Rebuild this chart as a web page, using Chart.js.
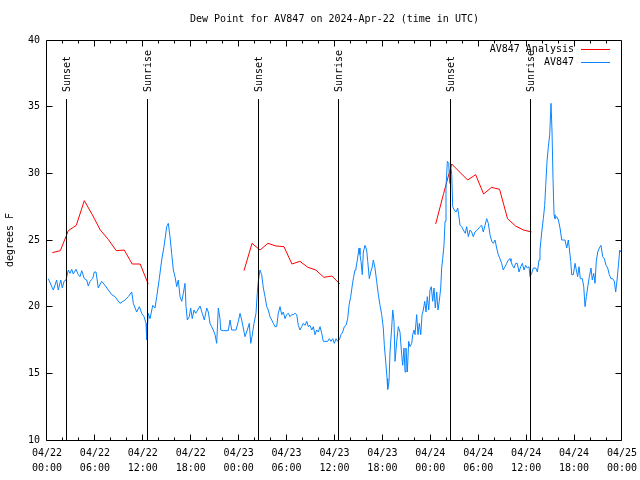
<!DOCTYPE html>
<html>
<head>
<meta charset="utf-8">
<script src="https://cdn.jsdelivr.net/npm/chart.js@4/dist/chart.umd.min.js"></script>
<style>
html,body{margin:0;padding:0;background:#fff;}
#wrap{width:640px;height:480px;}
</style>
</head>
<body>
<div id="wrap"><canvas id="c" width="640" height="480"></canvas></div>
<script>
// ---------- DATA ----------
const chartTitle = 'Dew Point for AV847 on 2024-Apr-22 (time in UTC)';
const yAxisTitle = 'degrees F';
const seriesNames = ['AV847 Analysis', 'AV847'];

// x tick labels (every 6 hours from 04/22 00:00 UTC)
const xTickLabels = [
  ['04/22','00:00'],['04/22','06:00'],['04/22','12:00'],['04/22','18:00'],
  ['04/23','00:00'],['04/23','06:00'],['04/23','12:00'],['04/23','18:00'],
  ['04/24','00:00'],['04/24','06:00'],['04/24','12:00'],['04/24','18:00'],
  ['04/25','00:00']
];
const yTickValues = [10, 15, 20, 25, 30, 35, 40];

// Sunset / sunrise markers (hours since 04/22 00:00 UTC)
const sunHours  = [2.42, 12.56, 26.46, 36.48, 50.5, 60.52];
const sunLabels = ['Sunset', 'Sunrise', 'Sunset', 'Sunrise', 'Sunset', 'Sunrise'];

// AV847 Analysis (red) — hours since 04/22 00:00, null = gap
const analysisHours = [
  0.67, 1.67, 2.67, 3.67, 4.67, 5.67, 6.67, 7.67, 8.67, 9.67, 10.67, 11.67, 12.67,
  18,
  24.67, 25.67, 26.67, 27.67, 28.67, 29.67, 30.67, 31.67, 32.67, 33.67, 34.67, 35.67, 36.67,
  42,
  48.67, 49.67, 50.67, 51.67, 52.67, 53.67, 54.67, 55.67, 56.67, 57.67, 58.67, 59.67, 60.67
];
const analysisValues = [
  24.05, 24.2, 25.7, 26.1, 27.95, 26.9, 25.75, 25.05, 24.2, 24.25, 23.2, 23.2, 21.7,
  null,
  22.7, 24.75, 24.25, 24.75, 24.55, 24.5, 23.2, 23.4, 22.95, 22.75, 22.2, 22.3, 21.7,
  null,
  26.2, 28.5, 30.7, 30.1, 29.5, 29.9, 28.45, 28.95, 28.8, 26.6, 26.05, 25.75, 25.6
];

// AV847 observations (blue)
const obsHours = [
  0.16,0.79,1.21,1.41,1.72,1.92,2.13,2.38,2.67,2.88,
  3.09,3.29,3.63,3.92,4.13,4.35,4.67,4.97,5.17,5.38,
  5.72,5.92,6.14,6.42,6.85,7.26,7.68,8.1,8.51,9.14,
  9.77,10.18,10.61,10.81,11.23,11.56,11.86,12.15,12.4,12.48,
  12.68,12.9,13.24,13.52,13.74,14.06,
  14.36,14.65,14.99,15.19,15.4,15.61,15.82,16.03,16.24,16.44,
  16.66,16.87,17.07,17.28,17.41,17.57,17.82,17.99,18.19,18.41,
  18.62,18.87,19.16,19.44,19.7,20.0,20.2,20.41,20.62,20.82,
  21.04,21.25,21.45,21.66,21.75,22.08,22.7,22.92,23.13,23.67,
  23.96,24.17,24.38,24.58,24.79,25.08,25.33,25.51,25.67,25.92,
  26.17,26.33,26.46,26.67,26.88,27.09,27.3,27.51,27.71,27.92,
  28.14,28.34,
  28.55,28.76,28.96,29.18,29.39,29.59,29.8,30.01,30.22,30.43,
  30.64,30.84,31.05,31.27,31.47,31.68,31.89,32.09,32.31,32.52,
  32.72,32.93,33.15,33.35,33.56,33.77,33.97,34.19,34.4,34.6,
  34.81,35.15,35.35,35.56,35.78,35.98,36.19,36.4,36.6,36.81,
  37.03,37.23,37.44,37.65,37.82,38.03,38.23,38.4,38.57,38.69,
  38.86,39.07,39.19,39.32,39.48,39.61,39.82,40.03,40.16,40.36,
  40.53,40.7,40.86,41.07,41.28,41.49,41.7,41.91,42.11,42.24,
  42.41,42.58,42.66,42.83,
  42.95,43.16,43.29,43.45,43.58,43.79,43.99,44.2,44.41,44.54,
  44.7,44.83,44.95,45.12,45.29,45.45,45.67,45.79,45.96,46.08,
  46.29,46.46,46.62,46.8,46.96,47.12,47.3,47.46,47.62,47.8,
  47.96,48.12,48.3,48.46,48.62,48.8,48.96,49.12,49.3,49.42,
  49.55,49.71,49.84,49.96,50.13,50.3,50.43,50.55,50.68,50.8,
  51.0,51.22,51.43,51.55,51.72,51.93,52.13,52.38,52.55,52.76,
  52.97,53.18,53.38,53.59,53.88,54.22,54.43,54.63,54.85,55.06,
  55.26,55.47,55.69,55.89,56.1,56.31,56.51,56.72,56.93,57.13,
  57.35,57.56,57.76,57.98,58.1,58.27,58.48,58.69,58.89,59.1,
  59.32,59.52,59.73,59.94,60.14,60.36,60.48,60.69,60.9,61.2,
  61.4,61.61,61.73,61.95,62.15,62.32,62.45,62.61,62.78,62.95,
  63.11,63.24,63.36,63.49,63.61,63.82,64.03,64.24,64.45,64.65,
  64.86,65.08,65.28,65.4,65.58,65.7,65.9,66.12,66.28,66.45,
  66.62,66.78,67.03,67.21,67.37,67.54,67.71,67.91,68.12,68.28,
  68.46,68.62,68.78,68.96,69.16,69.37,69.58,69.79,70.0,70.21,
  70.41,70.62,70.83,71.04,71.21,71.38,71.55,71.72,71.85
];
const obsValues = [
  22.1,21.25,22.0,21.25,22.0,21.4,21.9,22.0,22.75,22.5,
  22.8,22.45,22.8,22.4,22.25,22.7,22.1,22.0,21.55,21.9,
  22.1,22.6,22.6,21.4,21.9,21.6,21.25,20.9,20.75,20.25,
  20.5,20.75,21.1,20.25,19.6,20.0,19.5,19.25,18.75,17.5,
  19.5,19.1,20.1,19.9,20.75,22.1,
  23.5,24.5,26.0,26.25,25.25,24.0,22.75,22.25,21.5,22.0,
  20.75,20.4,21.0,21.75,20.0,19.0,19.25,19.9,19.1,19.75,
  19.5,19.75,20.05,19.5,19.0,19.9,19.6,18.75,18.5,18.25,
  17.9,17.25,19.9,19.1,18.25,18.2,18.2,19.0,18.25,18.25,
  18.9,19.5,19.0,18.4,17.75,18.25,18.75,17.25,17.75,18.75,
  19.5,21.0,21.9,22.75,22.4,21.4,20.75,20.0,19.75,19.25,
  19.0,18.75,
  18.5,18.5,19.5,20.0,19.4,19.6,19.1,19.4,19.5,19.25,
  19.4,19.4,19.5,19.4,18.6,18.25,18.5,18.75,18.6,18.9,
  18.5,18.6,18.25,18.5,17.9,18.25,18.1,18.5,18.0,17.4,
  17.4,17.4,17.6,17.4,17.6,17.25,17.6,17.4,17.5,17.9,
  18.1,18.5,18.6,19.1,20.1,20.75,21.6,22.25,22.75,22.9,
  23.5,24.4,23.9,23.4,22.4,24.1,24.6,24.25,23.4,22.1,
  22.6,22.9,23.5,22.9,21.9,20.9,20.1,19.4,18.4,17.1,
  15.9,14.6,13.8,14.4,
  16.6,18.4,19.75,18.9,15.9,17.4,18.5,18.1,16.4,15.6,
  16.9,15.1,16.9,15.1,17.4,17.0,17.25,17.9,18.25,17.9,
  19.4,17.9,18.75,17.9,19.4,19.75,20.4,19.6,20.75,19.75,
  21.25,21.5,20.4,21.4,19.9,21.1,19.75,20.4,21.4,22.9,
  23.6,24.6,26.4,28.9,30.9,30.75,29.25,30.6,29.9,27.5,
  27.25,27.1,27.4,26.9,26.1,26.0,25.75,25.5,26.0,25.25,
  25.75,25.6,25.25,25.6,25.75,26.0,26.1,25.6,26.1,26.6,
  26.25,25.4,24.9,24.75,25.0,24.4,23.9,23.6,23.25,22.75,
  23.0,23.25,23.5,23.6,23.4,23.1,22.9,23.25,23.25,22.6,
  23.0,23.25,22.75,23.1,22.9,23.0,22.25,22.5,22.9,22.9,
  22.6,23.5,24.25,25.6,26.6,27.6,29.1,30.9,32.0,32.9,
  35.25,33.1,29.6,26.9,26.6,26.75,26.5,25.9,25.0,25.0,
  25.0,24.4,25.0,24.4,23.4,22.4,22.4,23.25,22.75,22.25,
  23.0,22.1,22.1,21.5,20.0,20.75,21.5,22.25,22.9,22.0,
  22.5,21.75,23.4,24.1,24.4,24.6,23.75,23.6,23.1,22.9,
  22.4,22.1,22.1,21.9,21.1,22.0,23.1,24.25,24.1
];

// ---------- STYLE ----------
const FONT = "'DejaVu Sans Mono', 'Liberation Mono', monospace";
const RED = '#ff0000';
const BLUE = '#0a84ff';

function toPoints(hours, values) {
  const n = Math.min(hours.length, values.length);
  const out = [];
  for (let i = 0; i < n; i++) out.push({x: hours[i], y: values[i]});
  return out;
}

const gnuplotDecor = {
  id: 'gnuplotDecor',
  afterDraw(chart) {
    const ctx = chart.ctx;
    const a = chart.chartArea;
    const xs = chart.scales.x, ys = chart.scales.y;
    ctx.save();
    ctx.strokeStyle = '#000';
    ctx.lineWidth = 1;
    const L = a.left - 0.5, R = a.right - 0.5, T = a.top + 0.5, B = a.bottom + 0.5;
    // frame
    ctx.beginPath();
    ctx.moveTo(L, T); ctx.lineTo(R, T); ctx.lineTo(R, B); ctx.lineTo(L, B); ctx.closePath();
    ctx.stroke();
    // y ticks (left and right, inward)
    ctx.beginPath();
    yTickValues.forEach(v => {
      const py = Math.floor(ys.getPixelForValue(v)) + 0.5;
      ctx.moveTo(L, py); ctx.lineTo(L + 6, py);
      ctx.moveTo(R, py); ctx.lineTo(R - 6, py);
    });
    // x ticks every 2 hours (major every 6)
    for (let h = 2; h < 72; h += 2) {
      const px = Math.floor(xs.getPixelForValue(h)) + 0.5;
      const len = (h % 6 === 0) ? 6 : 3;
      ctx.moveTo(px, B); ctx.lineTo(px, B - len);
      ctx.moveTo(px, T); ctx.lineTo(px, T + len);
    }
    ctx.stroke();
    // sunrise / sunset markers
    ctx.font = '10px ' + FONT;
    ctx.fillStyle = '#000';
    sunHours.forEach((h, i) => {
      const px = Math.floor(xs.getPixelForValue(h)) + 0.5;
      ctx.beginPath();
      ctx.moveTo(px, a.top + 59); ctx.lineTo(px, B);
      ctx.stroke();
      ctx.save();
      ctx.translate(px + 1, a.top + 52);
      ctx.rotate(-Math.PI / 2);
      ctx.textAlign = 'left';
      ctx.textBaseline = 'middle';
      ctx.fillText(sunLabels[i], 0, 0);
      ctx.restore();
    });
    // legend (gnuplot style: text right-aligned, then line sample)
    chart.data.datasets.forEach((ds, i) => {
      const ty = a.top + 9 + i * 13;
      ctx.fillStyle = '#000';
      ctx.textAlign = 'right';
      ctx.textBaseline = 'middle';
      ctx.fillText(ds.label, a.right - 48, ty);
      ctx.strokeStyle = ds.borderColor;
      ctx.beginPath();
      const ly = Math.floor(ty) + 0.5;
      ctx.moveTo(a.right - 41, ly); ctx.lineTo(a.right - 12, ly);
      ctx.stroke();
    });
    ctx.restore();
  }
};

new Chart(document.getElementById('c'), {
  type: 'line',
  data: {
    datasets: [
      { label: seriesNames[0], data: toPoints(analysisHours, analysisValues),
        borderColor: RED, backgroundColor: RED, borderWidth: 1, pointRadius: 0,
        tension: 0, spanGaps: false, fill: false, order: 1 },
      { label: seriesNames[1], data: toPoints(obsHours, obsValues),
        borderColor: BLUE, backgroundColor: BLUE, borderWidth: 1, pointRadius: 0,
        tension: 0, spanGaps: false, fill: false, order: 0 }
    ]
  },
  options: {
    responsive: false,
    animation: false,
    devicePixelRatio: 1,
    layout: { padding: { left: 0, right: 18, top: 0, bottom: 0 } },
    plugins: {
      legend: { display: false },
      tooltip: { enabled: false },
      title: {
        display: true, text: chartTitle, color: '#000', fullSize: false,
        font: { family: FONT, size: 10, weight: 'normal', lineHeight: 1.2 },
        padding: { top: 13, bottom: 15 }
      }
    },
    scales: {
      x: {
        type: 'linear', min: 0, max: 72,
        grid: { display: false, drawTicks: false },
        border: { display: false },
        ticks: {
          stepSize: 6, autoSkip: false, maxRotation: 0, minRotation: 0, padding: 6,
          color: '#000', font: { family: FONT, size: 10, lineHeight: 1.5 },
          callback: (v) => xTickLabels[Math.round(v / 6)]
        },
        afterFit: (s) => { s.height = 40; s.paddingLeft = 0; s.paddingRight = 0; }
      },
      y: {
        min: 10, max: 40,
        grid: { display: false, drawTicks: false },
        border: { display: false },
        ticks: {
          stepSize: 5, padding: 7, color: '#000',
          font: { family: FONT, size: 10 }
        },
        title: {
          display: true, text: yAxisTitle, color: '#000',
          font: { family: FONT, size: 10 }, padding: { top: 4, bottom: 0 }
        },
        afterFit: (s) => { s.width = 47; }
      }
    }
  },
  plugins: [gnuplotDecor]
});
</script>
</body>
</html>
